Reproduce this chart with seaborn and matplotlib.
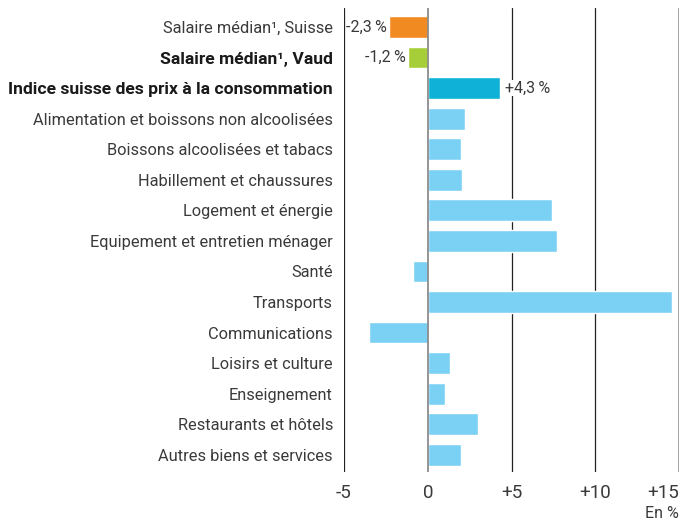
import matplotlib
matplotlib.use("Agg")
import matplotlib.pyplot as plt
import seaborn as sns
import pandas as pd

# Data (variation in %)
categories = [
    "Salaire médian¹, Suisse",
    "Salaire médian¹, Vaud",
    "Indice suisse des prix à la consommation",
    "Alimentation et boissons non alcoolisées",
    "Boissons alcoolisées et tabacs",
    "Habillement et chaussures",
    "Logement et énergie",
    "Equipement et entretien ménager",
    "Santé",
    "Transports",
    "Communications",
    "Loisirs et culture",
    "Enseignement",
    "Restaurants et hôtels",
    "Autres biens et services",
]
values = [-2.3, -1.2, 4.3, 2.2, 2.0, 2.05, 7.4, 7.7, -0.9, 14.6, -3.5, 1.3, 1.0, 3.0, 2.0]
bar_colors = ["#F28A22", "#A6CE39", "#0FB2D6"] + ["#7BD1F4"] * 12
value_labels = {0: "-2,3\u2009%", 1: "-1,2\u2009%", 2: "+4,3\u2009%"}
bold_rows = [1, 2]
x_ticks = [-5, 0, 5, 10, 15]
x_tick_labels = ["-5", "0", "+5", "+10", "+15"]

sns.set_theme(style="white")
plt.rcParams["font.family"] = ["Roboto", "DejaVu Sans"]

text_col = "#3a3a3a"
df = pd.DataFrame({"cat": categories, "val": values})

fig = plt.figure(figsize=(6.81, 5.22), dpi=100)
ax = fig.add_axes([344 / 681, 1 - 472 / 522, 335 / 681, 464 / 522])

# Grid lines drawn first so the bars sit on top
for xv, col, lw in [(-5, "#222222", 0.9), (5, "#222222", 0.9), (10, "#222222", 0.9),
                    (15, "#8c8c8c", 1.1)]:
    ax.axvline(xv, color=col, lw=lw, zorder=0)

sns.barplot(data=df, x="val", y="cat", hue="cat", palette=bar_colors,
            orient="h", width=0.71, legend=False, ax=ax, zorder=2, saturation=1)
ax.axvline(0, color="#8c8c8c", lw=1.3, zorder=3)

ax.set_xlim(-5, 15)
ax.set_ylim(14.56, -0.62)
ax.set_xlabel("")
ax.set_ylabel("")
for s in ax.spines.values():
    s.set_visible(False)

ax.set_xticks(x_ticks)
ax.set_xticklabels(x_tick_labels, fontsize=13.5, color=text_col)
ax.get_xticklabels()[-1].set_ha("right")
ax.tick_params(axis="both", length=0)
ax.tick_params(axis="x", pad=9)
ax.tick_params(axis="y", pad=8)
for i, lab in enumerate(ax.get_yticklabels()):
    lab.set_fontsize(11.8)
    lab.set_color(text_col)
    if i in bold_rows:
        lab.set_fontsize(12.6)
        lab.set_fontweight("bold")
        lab.set_color("#1a1a1a")

for i, txt in value_labels.items():
    v = values[i]
    if v < 0:
        ax.text(v - 0.12, i, txt, ha="right", va="center", fontsize=11.5, color=text_col,
                zorder=4, bbox=dict(facecolor="white", edgecolor="none", pad=0.5))
    else:
        ax.text(v + 0.3, i, txt, ha="left", va="center", fontsize=11.5, color=text_col,
                zorder=4, bbox=dict(facecolor="white", edgecolor="none", pad=0.5))

fig.text(679 / 681, 1 - 513 / 522, "En %", ha="right", va="center", fontsize=11.5,
         color=text_col)

fig.savefig("out.png", dpi=100)
